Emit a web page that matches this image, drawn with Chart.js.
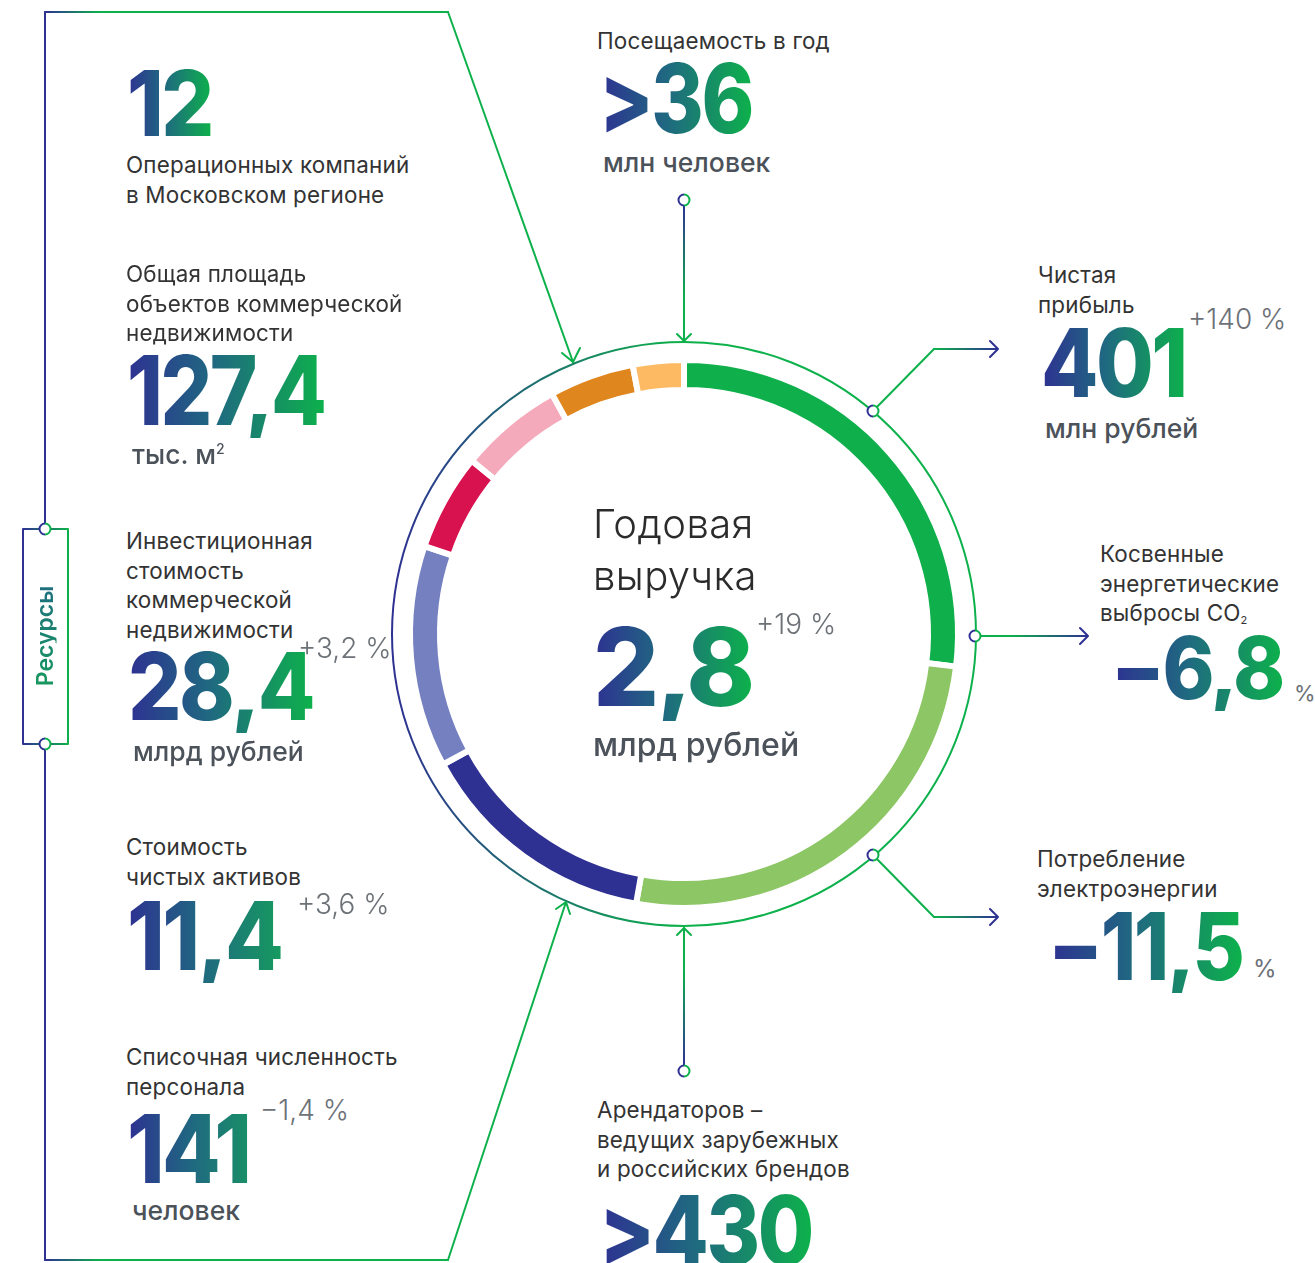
<!DOCTYPE html>
<html lang="ru">
<head>
<meta charset="utf-8">
<script src="https://cdn.jsdelivr.net/npm/chart.js@4.4.1/dist/chart.umd.min.js"></script>
<style>
  html,body{margin:0;padding:0;background:#fff;}
  body{width:1315px;height:1263px;position:relative;overflow:hidden;font-family:Inter,"Noto Sans",sans-serif;}
  #deco{position:absolute;left:0;top:0;}
  #chartBox{position:absolute;left:384px;top:334px;width:600px;height:600px;}
  .lbl{position:absolute;font-size:22.4px;line-height:29.5px;color:#333;white-space:nowrap;font-weight:400;letter-spacing:0.2px;}
  .big{position:absolute;font-weight:800;line-height:1;white-space:nowrap;letter-spacing:-0.03em;
       background:linear-gradient(90deg,#2e3192 0%,#1f6a80 45%,#0db14b 100%);
       -webkit-background-clip:text;background-clip:text;color:transparent;transform-origin:0 0;}
  .unit{position:absolute;font-size:26.5px;line-height:26px;font-weight:500;color:#4b525a;white-space:nowrap;}
  .chg{position:absolute;font-size:28px;line-height:28px;font-weight:300;color:#6d7278;white-space:nowrap;}
  .pct{position:absolute;font-weight:400;color:#6d7278;line-height:1;white-space:nowrap;}
  sub{font-size:11px;vertical-align:-3px;}
  sup{font-size:14px;vertical-align:10px;line-height:0;}
  #res{position:absolute;left:45px;top:636px;transform:translate(-50%,-50%) rotate(-90deg);font-size:23px;font-weight:600;
       line-height:1;white-space:nowrap;background:linear-gradient(90deg,#17985e,#1e6f7e);-webkit-background-clip:text;background-clip:text;color:transparent;}
</style>
</head>
<body>
<svg id="deco" width="1315" height="1263" viewBox="0 0 1315 1263">
  <defs>
    <linearGradient id="gCircle" gradientUnits="userSpaceOnUse" x1="394" y1="0" x2="680" y2="0">
      <stop offset="0" stop-color="#2e3192"/><stop offset="1" stop-color="#0db14b"/>
    </linearGradient>
    <linearGradient id="gTopLine" gradientUnits="userSpaceOnUse" x1="45" y1="0" x2="100" y2="0">
      <stop offset="0" stop-color="#2e3192"/><stop offset="1" stop-color="#0db14b"/>
    </linearGradient>
    <linearGradient id="gVTop" gradientUnits="userSpaceOnUse" x1="0" y1="205" x2="0" y2="300">
      <stop offset="0" stop-color="#2e3192"/><stop offset="1" stop-color="#0db14b"/>
    </linearGradient>
    <linearGradient id="gVBot" gradientUnits="userSpaceOnUse" x1="0" y1="1066" x2="0" y2="970">
      <stop offset="0" stop-color="#2e3192"/><stop offset="1" stop-color="#0db14b"/>
    </linearGradient>
    <linearGradient id="gR1" gradientUnits="userSpaceOnUse" x1="934" y1="0" x2="998" y2="0">
      <stop offset="0" stop-color="#0db14b"/><stop offset="1" stop-color="#2e3192"/>
    </linearGradient>
    <linearGradient id="gR2" gradientUnits="userSpaceOnUse" x1="1010" y1="0" x2="1088" y2="0">
      <stop offset="0" stop-color="#0db14b"/><stop offset="1" stop-color="#2e3192"/>
    </linearGradient>
    <linearGradient id="gBox" gradientUnits="userSpaceOnUse" x1="23" y1="0" x2="68" y2="0">
      <stop offset="0" stop-color="#2e3192"/><stop offset="1" stop-color="#0db14b"/>
    </linearGradient>
    <linearGradient id="gNode" x1="0" y1="0" x2="1" y2="0">
      <stop offset="0.45" stop-color="#2e3192"/><stop offset="0.55" stop-color="#0db14b"/>
    </linearGradient>
  </defs>
  <g fill="none" stroke-width="2" stroke-linecap="round" stroke-linejoin="round">
    <circle cx="684" cy="634" r="292" stroke="url(#gCircle)"/>
    <line x1="45" y1="12" x2="45" y2="1260" stroke="#2e3192"/>
    <path d="M45 12 H448" stroke="url(#gTopLine)"/>
    <path d="M448 12 L573 362" stroke="#0db14b"/>
    <path d="M562 353 L573 362 L580 348" stroke="#0db14b"/>
    <path d="M45 1260 H448" stroke="url(#gTopLine)"/>
    <path d="M448 1260 L566 902" stroke="#0db14b"/>
    <path d="M556 909 L566 902 L570 914" stroke="#0db14b"/>
    <rect x="23" y="529" width="45" height="215" fill="#fff" stroke="url(#gBox)"/>
    <line x1="684" y1="206" x2="684" y2="341" stroke="url(#gVTop)"/>
    <path d="M677 334 L684 341 L691 334" stroke="#0db14b"/>
    <line x1="684" y1="1065" x2="684" y2="928" stroke="url(#gVBot)"/>
    <path d="M677 935 L684 928 L691 935" stroke="#0db14b"/>
    <path d="M873 411 L934 349" stroke="#0db14b"/>
    <path d="M934 349 H997" stroke="url(#gR1)"/>
    <path d="M990 341 L998 349 L990 357" stroke="#2e3192"/>
    <path d="M976 636 H1087" stroke="url(#gR2)"/>
    <path d="M1080 628 L1088 636 L1080 644" stroke="#2e3192"/>
    <path d="M873 855 L934 917" stroke="#0db14b"/>
    <path d="M934 917 H997" stroke="url(#gR1)"/>
    <path d="M990 909 L998 917 L990 925" stroke="#2e3192"/>
    <g fill="#fff" stroke="url(#gNode)">
      <circle cx="45" cy="529" r="5.5"/>
      <circle cx="45" cy="744" r="5.5"/>
      <circle cx="684" cy="200" r="5.5"/>
      <circle cx="684" cy="1071" r="5.5"/>
      <circle cx="873" cy="411" r="5.5"/>
      <circle cx="975" cy="636" r="5.5"/>
      <circle cx="873" cy="855" r="5.5"/>
    </g>
  </g>
</svg>

<div id="chartBox"><canvas id="c" width="600" height="600"></canvas></div>

<div id="res">Ресурсы</div>

<!-- left column -->
<div class="big" data-w="85" style="left:127px;top:57.6px;font-size:91px;">12</div>
<div class="lbl" style="left:126px;top:150px;">Операционных компаний<br>в Московском регионе</div>

<div class="lbl" style="left:126px;top:259px;">Общая площадь<br>объектов коммерческой<br>недвижимости</div>
<div class="big" data-w="198" style="left:127px;top:342px;font-size:96px;">127,4</div>
<div class="unit" style="left:132px;top:441px;">тыс. м<sup>2</sup></div>

<div class="lbl" style="left:126px;top:526px;">Инвестиционная<br>стоимость<br>коммерческой<br>недвижимости</div>
<div class="chg" style="left:298px;top:634px;">+3,2 %</div>
<div class="big" data-w="185" style="left:128px;top:639px;font-size:94px;">28,4</div>
<div class="unit" style="left:133px;top:738px;">млрд рублей</div>

<div class="lbl" style="left:126px;top:832px;">Стоимость<br>чистых активов</div>
<div class="chg" style="left:297px;top:890px;">+3,6 %</div>
<div class="big" data-w="154" style="left:127px;top:888px;font-size:95px;background:linear-gradient(90deg,#2e3192 0%,#1f6a80 50%,#169a5f 100%);-webkit-background-clip:text;background-clip:text;">11,4</div>

<div class="lbl" style="left:126px;top:1042px;">Списочная численность<br>персонала</div>
<div class="chg" style="left:260px;top:1096px;">−1,4 %</div>
<div class="big" data-w="122" style="left:127px;top:1101px;font-size:95px;background:linear-gradient(90deg,#2e3192 0%,#1f6a80 55%,#198f67 100%);-webkit-background-clip:text;background-clip:text;">141</div>
<div class="unit" style="left:132px;top:1197px;">человек</div>

<!-- top center -->
<div class="lbl" style="left:597px;top:26px;">Посещаемость в год</div>
<div class="big" data-w="153" style="left:599px;top:50px;font-size:96px;">&gt;36</div>
<div class="unit" style="left:603px;top:149px;">млн человек</div>

<!-- center -->
<div style="position:absolute;left:593px;top:498px;font-size:40px;line-height:52px;font-weight:300;color:#2b2b2b;white-space:nowrap;letter-spacing:0.4px;">Годовая<br>выручка</div>
<div class="chg" style="left:756px;top:610px;">+19 %</div>
<div class="big" data-w="159" style="left:593px;top:612px;font-size:109px;">2,8</div>
<div class="unit" style="left:593px;top:729px;font-size:32px;line-height:31px;">млрд рублей</div>

<!-- bottom center -->
<div class="lbl" style="left:597px;top:1095px;">Арендаторов –<br>ведущих зарубежных<br>и российских брендов</div>
<div class="big" data-w="213" style="left:599px;top:1182px;font-size:96px;">&gt;430</div>

<!-- right column -->
<div class="lbl" style="left:1038px;top:260px;">Чистая<br>прибыль</div>
<div class="chg" style="left:1188px;top:305px;">+140 %</div>
<div class="big" data-w="145" style="left:1041px;top:315px;font-size:95px;">401</div>
<div class="unit" style="left:1045px;top:415px;">млн рублей</div>

<div class="lbl" style="left:1100px;top:539px;">Косвенные<br>энергетические<br>выбросы CO<sub>2</sub></div>
<div class="big" data-w="172" style="left:1111px;top:625px;font-size:86px;">−6,8</div>
<div class="pct" style="left:1294px;top:682px;font-size:22px;">%</div>

<div class="lbl" style="left:1037px;top:844px;">Потребление<br>электроэнергии</div>
<div class="big" data-w="194" style="left:1048px;top:899px;font-size:94px;">−11,5</div>
<div class="pct" style="left:1253px;top:957px;font-size:24px;">%</div>

<script>
// Revenue structure (share of annual revenue, %), read clockwise from 12 o'clock
const segments = ['Сегмент 1','Сегмент 2','Сегмент 3','Сегмент 4','Сегмент 5','Сегмент 6','Сегмент 7','Сегмент 8'];
const revenueShares = [26.9, 25.9, 14.3, 13.1, 5.7, 6.1, 5.0, 3.0];
const segmentColors = ['#0fb04b','#8cc665','#2e3192','#7480c0','#d7124f','#f4aabb','#e0861e','#fdba62'];

const outerR = 274, innerR = 244;
new Chart(document.getElementById('c'), {
  type: 'doughnut',
  data: {
    labels: segments,
    datasets: [{
      data: revenueShares,
      backgroundColor: segmentColors,
      borderColor: '#ffffff',
      borderWidth: 6,
      hoverOffset: 0
    }]
  },
  options: {
    responsive: false,
    animation: false,
    radius: outerR,
    cutout: (innerR / outerR * 100).toFixed(3) + '%',
    rotation: 0,
    layout: { padding: 0 },
    plugins: { legend: { display: false }, tooltip: { enabled: false } },
    events: []
  }
});

document.querySelectorAll('.big').forEach(el => {
  const target = parseFloat(el.dataset.w);
  const w = el.offsetWidth;
  if (target && w) el.style.transform = 'scaleX(' + (target / w).toFixed(3) + ')';
});
</script>
</body>
</html>
